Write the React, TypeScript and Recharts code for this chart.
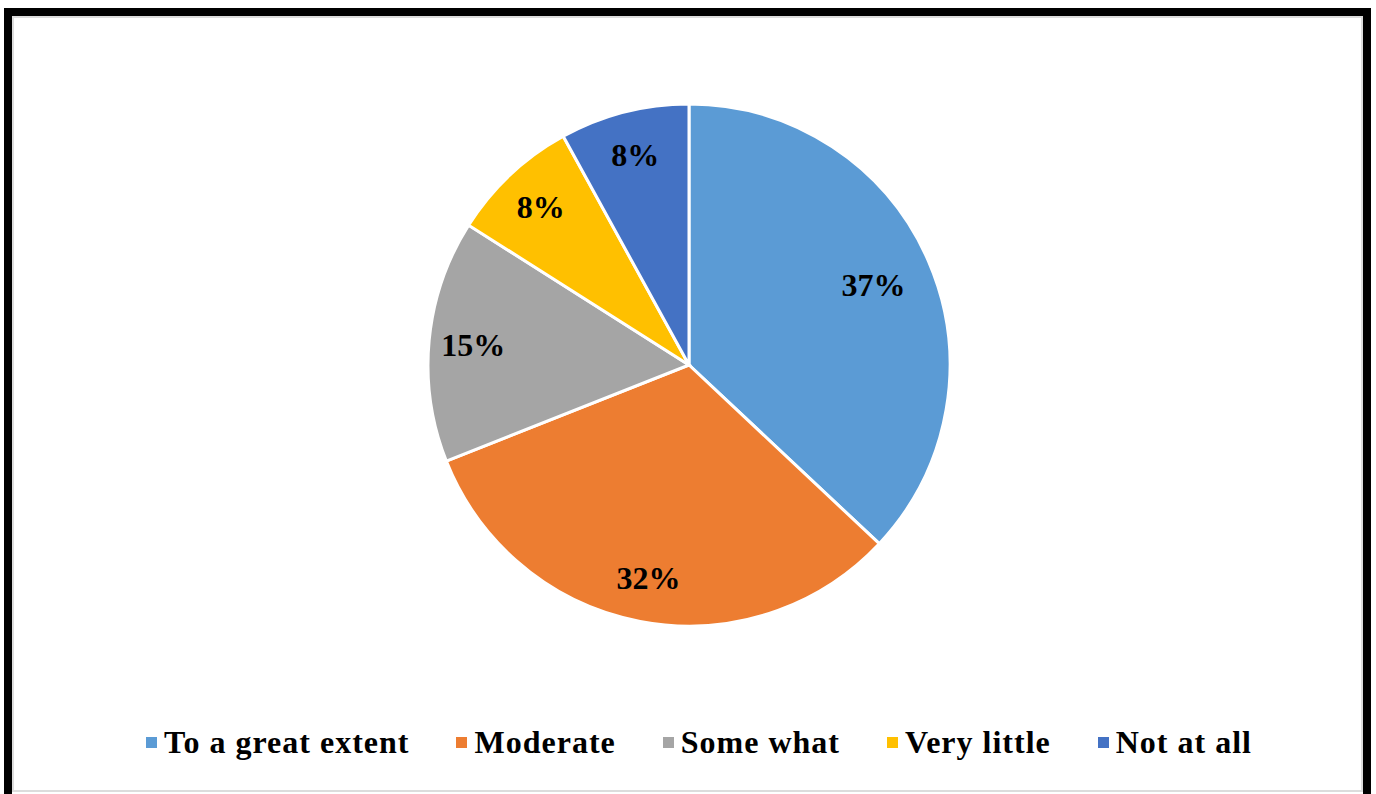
import { PieChart, Pie, Cell, Legend } from 'recharts';

const categories = ['To a great extent', 'Moderate', 'Some what', 'Very little', 'Not at all'];
const shares = [37, 32, 15, 8, 8];
const colors = ['#5B9BD5', '#ED7D31', '#A5A5A5', '#FFC000', '#4472C4'];

const data = categories.map((name, i) => ({ name, value: shares[i] }));

const FONT = '"Liberation Serif", "Times New Roman", serif';
const RAD = Math.PI / 180;

const renderLabel = (props: any) => {
  const { cx, cy, midAngle, outerRadius, value, index } = props;
  // Excel nudged the big slice's label a little inward
  const r = outerRadius * (index === 0 ? 0.77 : 0.83);
  const x = cx + r * Math.cos(-midAngle * RAD);
  const y = cy + r * Math.sin(-midAngle * RAD);
  return (
    <text
      x={x}
      y={y}
      fill="#000"
      textAnchor="middle"
      dominantBaseline="central"
      fontFamily={FONT}
      fontWeight="bold"
      fontSize={32}
    >
      {`${value}%`}
    </text>
  );
};

const renderLegend = () => (
  <div style={{ display: 'flex', justifyContent: 'center', alignItems: 'center', fontFamily: FONT, paddingLeft: 22 }}>
    {categories.map((c, i) => (
      <div key={c} style={{ display: 'flex', alignItems: 'center', marginRight: i < categories.length - 1 ? 47 : 0 }}>
        <span style={{ width: 11, height: 11, background: colors[i], display: 'inline-block', marginRight: 7 }} />
        <span style={{ fontWeight: 'bold', fontSize: 32, letterSpacing: 1, color: '#000', lineHeight: '36px' }}>{c}</span>
      </div>
    ))}
  </div>
);

export default function App() {
  return (
    <div style={{ position: 'absolute', left: 0, top: 0, width: 1376, height: 794, overflow: 'hidden', background: '#fff' }}>
      <div
        style={{
          position: 'absolute',
          left: 4,
          top: 8,
          width: 1367,
          height: 800,
          boxSizing: 'border-box',
          border: '8px solid #000',
        }}
      >
        <div
          style={{
            position: 'absolute',
            left: 0,
            top: 0,
            right: 0,
            height: 776,
            boxSizing: 'border-box',
            border: '2px solid #dcdcdc',
            background: '#fff',
          }}
        />
      </div>
      <div style={{ position: 'absolute', left: 0, top: 0 }}>
        <PieChart width={1376} height={794} margin={{ top: 0, right: 0, bottom: 0, left: 0 }}>
          <Pie
            data={data}
            dataKey="value"
            nameKey="name"
            cx={689}
            cy={365}
            outerRadius={261}
            startAngle={90}
            endAngle={-270}
            stroke="#fff"
            strokeWidth={3}
            label={renderLabel}
            labelLine={false}
            isAnimationActive={false}
          >
            {data.map((d, i) => (
              <Cell key={d.name} fill={colors[i]} />
            ))}
          </Pie>
          <Legend content={renderLegend} wrapperStyle={{ top: 724, left: 0, width: 1376 }} />
        </PieChart>
      </div>
    </div>
  );
}
